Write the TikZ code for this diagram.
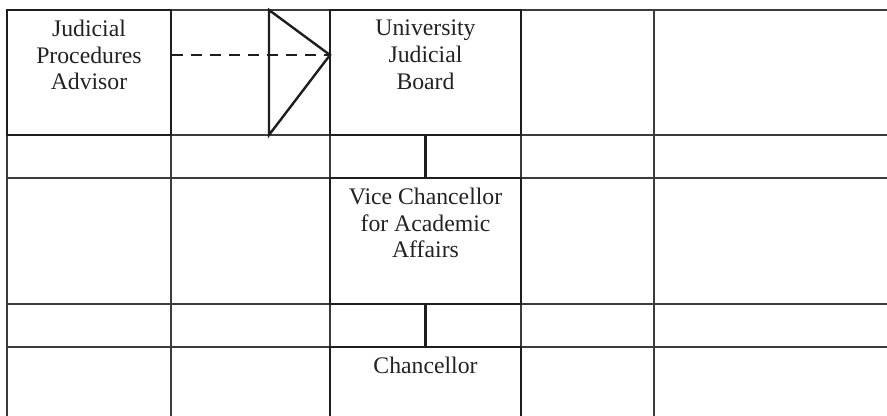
\documentclass[tikz,border=0pt]{standalone}
\usepackage{fontspec}
\setmainfont{Liberation Serif}
\usetikzlibrary{positioning,fit}
\definecolor{gridline}{HTML}{3C3C3C}
\definecolor{boxline}{HTML}{1E1E1E}
\definecolor{inktext}{HTML}{222222}
\tikzset{
  cell/.style={draw=gridline, line width=1.3pt},
  box/.style={draw=boxline, line width=1.8pt, inner sep=0pt},
  boxtext/.style={align=center, inner sep=0pt, text=inktext,
                  font=\fontsize{17.8}{20}\selectfont},
  link/.style={draw=boxline, line width=1.8pt},
  dashlink/.style={draw=boxline, line width=1.8pt, dash pattern=on 8.25pt off 6pt},
}

\begin{document}
\begin{tikzpicture}[x=0.75pt, y=-0.75pt, node distance=8.25pt]
  \useasboundingbox (0,0) rectangle (887,416);
  \clip (0,0) rectangle (887,416);
  % grid
  \foreach \y in {10,135,178,304,347} \draw[cell] (7,\y) -- (887,\y);
  \foreach \x in {7,171,330,521,654} \draw[cell] (\x,10) -- (\x,416);
  % boxes
  \node[box, fit={(7,10) (171,135)}] (jpa) {};
  \node[box, fit={(330,10) (521,135)}] (ujb) {};
  \node[box, fit={(330,178) (521,304)}] (vcaa) {};
  \node[box, fit={(330,347) (521,440)}] (chan) {};
  \node[boxtext, below=of jpa.north] (jpatext) {Judicial\\Procedures\\Advisor};
  \node[boxtext, below=of ujb.north] (ujbtext) {University\\Judicial\\Board};
  \node[boxtext, below=of vcaa.north] (vcaatext) {Vice Chancellor\\for Academic\\Affairs};
  \node[boxtext, below=of chan.north] (chantext) {Chancellor};
  % dashed link with open head
  \coordinate (tip) at (330,55);
  \coordinate (headtop) at (269,10);
  \coordinate (headbot) at (269,135);
  \draw[dashlink] (jpa.east |- tip) -- (tip);
  \draw[link, line join=miter] (headtop) -- (tip) -- (headbot) -- cycle;
  % solid links
  \draw[link] (ujb.south) -- (vcaa.north);
  \draw[link] (vcaa.south) -- (chan.north);
\end{tikzpicture}
\end{document}
